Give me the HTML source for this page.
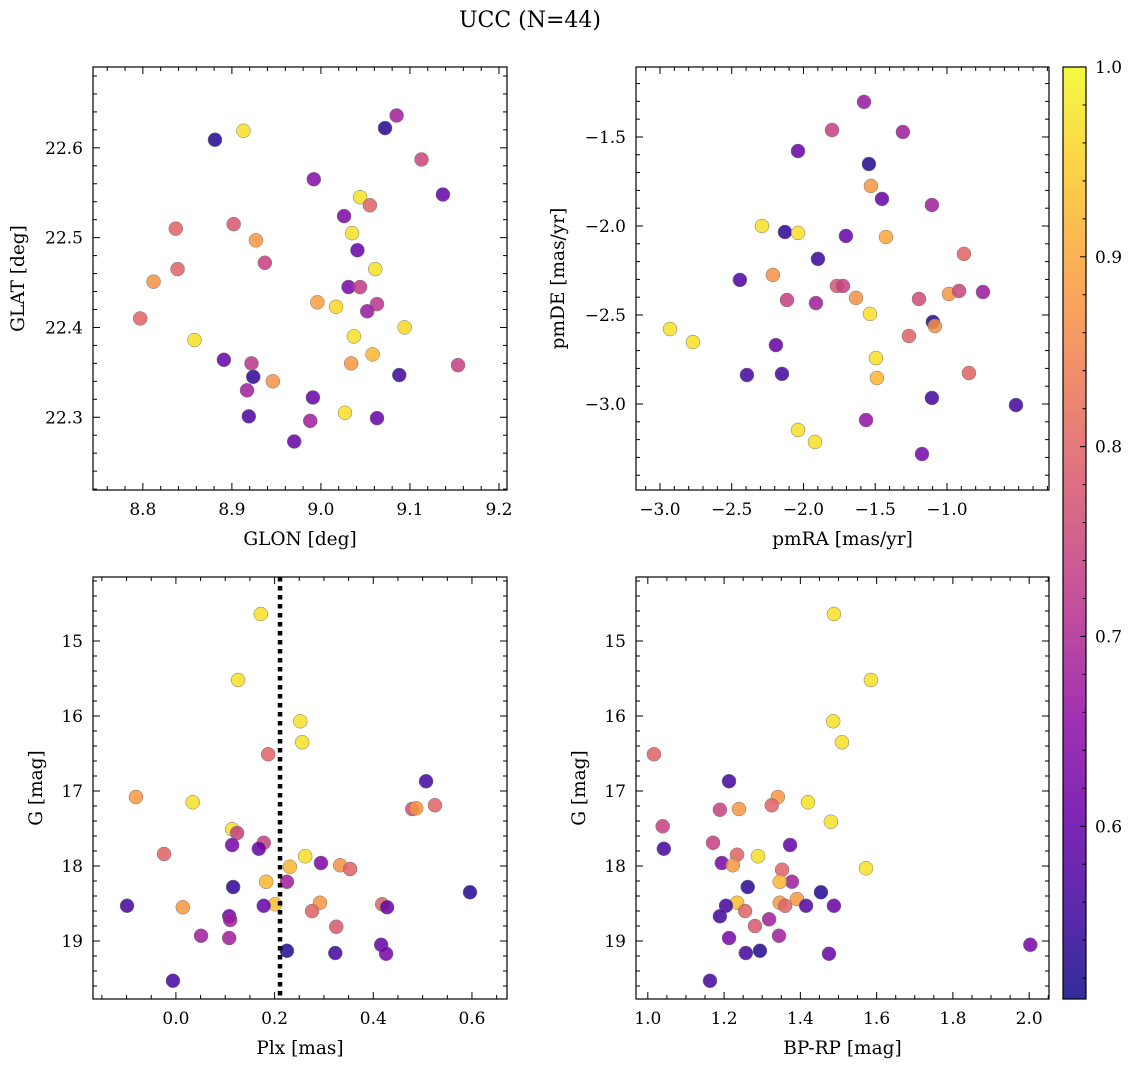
<!DOCTYPE html>
<html><head><meta charset="utf-8"><style>
body{margin:0;background:#fff;}
svg{display:block;font-family:"DejaVu Serif","Liberation Serif",serif;}
</style></head><body>
<svg id="fig" width="1136" height="1067" xmlns="http://www.w3.org/2000/svg">
<rect width="1136" height="1067" fill="#fff"/>
<text x="530" y="27" font-size="22" text-anchor="middle">UCC (N=44)</text>
</svg>
<script>
// ---- data ----
const probTL=[0.53,0.97,0.53,0.68,0.75,0.6,0.64,0.97,0.8,0.63,0.97,0.6,0.8,0.78,0.88,0.8,0.87,0.74,0.97,0.62,0.73,0.89,0.96,0.72,0.67,0.8,0.96,0.97,0.97,0.92,0.6,0.72,0.88,0.74,0.54,0.55,0.87,0.68,0.6,0.57,0.97,0.6,0.68,0.6];
const glon=[8.881,8.913,9.072,9.085,9.113,9.137,8.992,9.044,9.055,9.026,9.035,9.041,8.837,8.902,8.927,8.839,8.812,8.937,9.061,9.031,9.044,8.996,9.017,9.063,9.052,8.797,9.094,9.037,8.858,9.058,8.891,8.922,9.034,9.154,8.924,9.088,8.946,8.917,8.991,8.919,9.027,9.063,8.988,8.970];
const glat=[22.609,22.619,22.622,22.636,22.587,22.548,22.565,22.545,22.536,22.524,22.505,22.486,22.510,22.515,22.497,22.465,22.451,22.472,22.465,22.445,22.445,22.428,22.423,22.426,22.418,22.410,22.400,22.390,22.386,22.370,22.364,22.360,22.360,22.358,22.345,22.347,22.340,22.330,22.322,22.301,22.305,22.299,22.296,22.273];
const probTR=[0.67,0.74,0.68,0.6,0.53,0.88,0.6,0.68,0.97,0.54,0.97,0.6,0.9,0.55,0.8,0.57,0.87,0.74,0.68,0.78,0.74,0.87,0.76,0.88,0.75,0.67,0.97,0.8,0.53,0.87,0.97,0.97,0.6,0.97,0.8,0.56,0.56,0.92,0.56,0.56,0.66,0.97,0.97,0.62];
const pmra=[-1.578,-1.801,-1.307,-2.038,-1.544,-1.530,-1.453,-1.105,-2.289,-2.129,-2.038,-1.704,-1.425,-1.899,-0.882,-2.443,-2.213,-2.115,-1.913,-1.767,-1.725,-1.634,-1.195,-0.986,-0.916,-0.749,-1.537,-1.265,-1.098,-1.084,-2.930,-2.770,-2.192,-1.495,-0.847,-2.394,-2.150,-1.488,-1.105,-0.519,-1.564,-2.038,-1.920,-1.174];
const pmde=[-1.303,-1.461,-1.472,-1.579,-1.652,-1.775,-1.848,-1.882,-2.0,-2.034,-2.039,-2.056,-2.062,-2.185,-2.157,-2.303,-2.275,-2.416,-2.433,-2.337,-2.337,-2.404,-2.410,-2.382,-2.365,-2.371,-2.494,-2.618,-2.539,-2.562,-2.579,-2.652,-2.669,-2.742,-2.826,-2.837,-2.831,-2.854,-2.966,-3.006,-3.090,-3.146,-3.213,-3.281];
const probBL=[0.97,0.97,0.97,0.97,0.8,0.56,0.88,0.97,0.8,0.76,0.88,0.97,0.74,0.62,0.74,0.6,0.8,0.97,0.63,0.87,0.92,0.8,0.68,0.92,0.54,0.53,0.88,0.93,0.6,0.56,0.88,0.8,0.6,0.8,0.6,0.68,0.78,0.68,0.68,0.6,0.53,0.56,0.62,0.56];
const plx=[0.172,0.126,0.252,0.256,0.187,0.507,-0.081,0.034,0.525,0.479,0.487,0.114,0.124,0.114,0.178,0.168,-0.024,0.262,0.294,0.333,0.231,0.353,0.225,0.183,0.116,0.596,0.292,0.201,0.178,-0.099,0.014,0.418,0.428,0.276,0.108,0.110,0.325,0.051,0.108,0.416,0.225,0.323,0.426,-0.006];
const gBL=[14.64,15.52,16.07,16.35,16.51,16.87,17.08,17.15,17.19,17.24,17.23,17.51,17.56,17.72,17.69,17.77,17.84,17.87,17.96,17.99,18.01,18.04,18.21,18.21,18.28,18.35,18.49,18.51,18.53,18.53,18.55,18.51,18.55,18.60,18.67,18.72,18.81,18.93,18.96,19.05,19.13,19.16,19.17,19.53];
const probBR=[0.97,0.97,0.97,0.97,0.8,0.56,0.88,0.97,0.74,0.8,0.88,0.74,0.97,0.74,0.6,0.56,0.8,0.97,0.62,0.8,0.97,0.88,0.68,0.92,0.54,0.53,0.88,0.93,0.88,0.58,0.8,0.56,0.6,0.8,0.56,0.68,0.78,0.62,0.68,0.62,0.53,0.56,0.6,0.56];
const bprp=[1.488,1.585,1.486,1.509,1.016,1.213,1.341,1.420,1.039,1.325,1.239,1.189,1.480,1.171,1.373,1.042,1.234,1.289,1.194,1.352,1.572,1.223,1.378,1.346,1.262,1.454,1.391,1.234,1.346,1.415,1.360,1.205,1.488,1.255,1.189,1.318,1.281,1.213,1.344,2.003,1.294,1.257,1.475,1.163];
const gBR=[14.64,15.52,16.07,16.35,16.51,16.87,17.08,17.15,17.47,17.19,17.24,17.25,17.41,17.69,17.72,17.77,17.85,17.87,17.96,18.05,18.03,17.99,18.21,18.21,18.28,18.35,18.44,18.49,18.49,18.53,18.53,18.53,18.53,18.60,18.67,18.71,18.80,18.96,18.93,19.05,19.13,19.16,19.17,19.53];
const plxLine=[0.211];
const cbTicks=[0.6,0.7,0.8,0.9,1.0];
const cbMin=0.509, cbMax=1.0;

const NS="http://www.w3.org/2000/svg";
const svg=document.getElementById('fig');
function mk(tag,attrs,parent){const e=document.createElementNS(NS,tag);for(const k in attrs)e.setAttribute(k,attrs[k]);(parent||svg).appendChild(e);return e;}
const plasma=[[13,8,135],[65,4,157],[106,0,168],[143,13,164],[177,42,144],[204,71,120],[225,100,98],[242,132,75],[252,166,54],[252,206,37],[240,249,33]];
function cmap(v){let t=(v-cbMin)/(cbMax-cbMin);t=Math.max(0,Math.min(1,t))*10;const i=Math.min(9,Math.floor(t)),f=t-i;const a=plasma[i],b=plasma[i+1];return 'rgb('+a.map((c,k)=>Math.round(c+(b[k]-c)*f)).join(',')+')';}
function fmt(v,d){const s=Math.abs(v).toFixed(d);return (v<-1e-9?'\u2212':'')+s;}
const TF=17, LF=18.5;

function panel(cfg){
  const g=mk('g',{});
  
  
  const {x0,x1,y0,y1,xmin,xmax,ymin,ymax,inv}=cfg;
  const sx=v=>x0+(v-xmin)/(xmax-xmin)*(x1-x0);
  const sy=v=>inv? y0+(v-ymin)/(ymax-ymin)*(y1-y0) : y1-(v-ymin)/(ymax-ymin)*(y1-y0);
  for(let i=0;i<cfg.xs.length;i++){
    const c=mk('circle',{cx:sx(cfg.xs[i]),cy:sy(cfg.ys[i]),r:7,fill:cmap(cfg.p[i]),'fill-opacity':0.85,stroke:'#777','stroke-width':0.5},g);
    
    
  }
  if(cfg.vline){cfg.vline.forEach(v=>{const l=mk('line',{x1:sx(v),x2:sx(v),y1:y0,y2:y1,stroke:'#000','stroke-width':4.5,'stroke-dasharray':'4.5,4.5'},g);
    
    });}
  mk('rect',{x:x0,y:y0,width:x1-x0,height:y1-y0,fill:'none',stroke:'#000','stroke-width':1.2},g);
  const mjx=cfg.xt, mnx=cfg.xt[1]-cfg.xt[0], nx=cfg.xminor;
  for(let v=Math.ceil(xmin/(mnx/nx))*(mnx/nx);v<=xmax+1e-9;v+=mnx/nx){
    const X=sx(v);const major=mjx.some(t=>Math.abs(t-v)<1e-6);const L=major?7:4;
    mk('line',{x1:X,x2:X,y1:y1,y2:y1-L,stroke:'#000','stroke-width':1},g);
    mk('line',{x1:X,x2:X,y1:y0,y2:y0+L,stroke:'#000','stroke-width':1},g);
  }
  mjx.forEach(t=>{const tx=mk('text',{x:sx(t),y:y1+25,'font-size':TF,'text-anchor':'middle'},g);tx.textContent=fmt(t,cfg.xd);
    
    });
  const mjy=cfg.yt, mny=cfg.yt[1]-cfg.yt[0], ny=cfg.yminor;
  for(let v=Math.ceil(ymin/(mny/ny))*(mny/ny);v<=ymax+1e-9;v+=mny/ny){
    const Y=sy(v);const major=mjy.some(t=>Math.abs(t-v)<1e-6);const L=major?7:4;
    mk('line',{x1:x0,x2:x0+L,y1:Y,y2:Y,stroke:'#000','stroke-width':1},g);
    mk('line',{x1:x1,x2:x1-L,y1:Y,y2:Y,stroke:'#000','stroke-width':1},g);
  }
  mjy.forEach(t=>{const tx=mk('text',{x:x0-10,y:sy(t)+6,'font-size':TF,'text-anchor':'end'},g);tx.textContent=fmt(t,cfg.yd);
    
    });
  const xl=mk('text',{x:(x0+x1)/2,y:y1+55,'font-size':LF,'text-anchor':'middle'},g);xl.textContent=cfg.xlabel;
  
  
  const yl=mk('text',{x:cfg.ylx,y:(y0+y1)/2,'font-size':LF,'text-anchor':'middle',transform:`rotate(-90 ${cfg.ylx} ${(y0+y1)/2})`},g);yl.textContent=cfg.ylabel;
  
  
}
panel({name:'glon-glat-panel',x0:93,x1:507,y0:67,y1:490,xmin:8.744,xmax:9.209,ymin:22.219,ymax:22.690,xs:glon,ys:glat,p:probTL,xt:[8.8,8.9,9.0,9.1,9.2],xd:1,xminor:5,yt:[22.3,22.4,22.5,22.6],yd:1,yminor:5,xlabel:'GLON [deg]',ylabel:'GLAT [deg]',ylx:24});
panel({name:'proper-motion-panel',x0:636,x1:1049,y0:67,y1:490,xmin:-3.167,xmax:-0.289,ymin:-3.483,ymax:-1.107,xs:pmra,ys:pmde,p:probTR,xt:[-3.0,-2.5,-2.0,-1.5,-1.0],xd:1,xminor:5,yt:[-3.0,-2.5,-2.0,-1.5],yd:1,yminor:5,xlabel:'pmRA [mas/yr]',ylabel:'pmDE [mas/yr]',ylx:564});
panel({name:'plx-g-panel',x0:93,x1:507,y0:577,y1:999,xmin:-0.168,xmax:0.671,ymin:14.147,ymax:19.773,inv:true,xs:plx,ys:gBL,p:probBL,xt:[0.0,0.2,0.4,0.6],xd:1,xminor:4,yt:[15,16,17,18,19],yd:0,yminor:5,xlabel:'Plx [mas]',ylabel:'G [mag]',ylx:42,vline:plxLine});
panel({name:'cmd-panel',x0:636,x1:1049,y0:577,y1:999,xmin:0.969,xmax:2.052,ymin:14.147,ymax:19.773,inv:true,xs:bprp,ys:gBR,p:probBR,xt:[1.0,1.2,1.4,1.6,1.8,2.0],xd:1,xminor:4,yt:[15,16,17,18,19],yd:0,yminor:5,xlabel:'BP-RP [mag]',ylabel:'G [mag]',ylx:585});

const cb=mk('g',{});


const defs=mk('defs',{},cb);
const lg=mk('linearGradient',{id:'cbg',x1:0,y1:1,x2:0,y2:0},defs);
plasma.forEach((c,i)=>mk('stop',{offset:i/10,'stop-color':`rgb(${c.join(',')})`,'stop-opacity':0.85},lg));
const cbx0=1063,cbx1=1086,cby0=67,cby1=999;
mk('rect',{x:cbx0,y:cby0,width:cbx1-cbx0,height:cby1-cby0,fill:'url(#cbg)',stroke:'#000','stroke-width':1.2},cb);
const cy=v=>cby1-(v-cbMin)/(cbMax-cbMin)*(cby1-cby0);
for(let v=0.52;v<=1.0001;v+=0.02){const Y=cy(v);const major=cbTicks.some(t=>Math.abs(t-v)<1e-6);
  mk('line',{x1:cbx1,x2:cbx1-(major?6:3.5),y1:Y,y2:Y,stroke:'#000','stroke-width':1},cb);}
cbTicks.forEach(t=>{const tx=mk('text',{x:cbx1+9,y:cy(t)+6,'font-size':TF},cb);tx.textContent=t.toFixed(1);
  
  });
</script>
</body></html>
